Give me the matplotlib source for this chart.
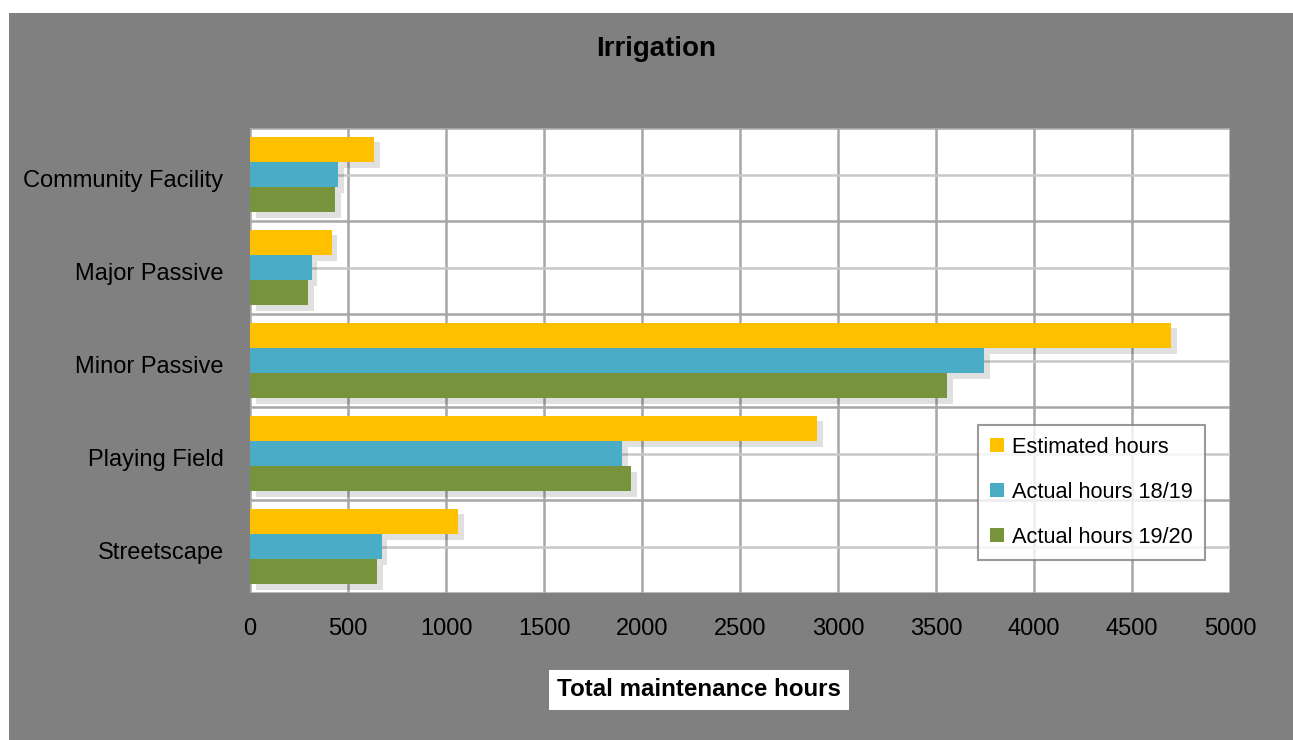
import matplotlib.pyplot as plt
import matplotlib.patheffects as pe
import matplotlib.transforms as mtransforms
from matplotlib.patches import Rectangle
import numpy as np

plt.rcParams['font.family'] = ['Liberation Sans', 'DejaVu Sans']

categories = ["Community Facility", "Major Passive", "Minor Passive", "Playing Field", "Streetscape"]
estimated = [633, 418, 4699, 2893, 1061]
actual_1819 = [449, 316, 3745, 1898, 673]
actual_1920 = [434, 296, 3556, 1944, 648]
series_names = ["Estimated hours", "Actual hours 18/19", "Actual hours 19/20"]
colors = ["#FFC000", "#4BACC6", "#77933C"]
xticks = [0, 500, 1000, 1500, 2000, 2500, 3000, 3500, 4000, 4500, 5000]

W, H = 1293, 740
fig = plt.figure(figsize=(W / 100, H / 100), dpi=100)
fig.patch.set_facecolor("white")
fig.patches.append(Rectangle((9 / W, 0), 1 - 9 / W, 1 - 13 / H, transform=fig.transFigure,
                             facecolor="#808080", edgecolor="none", zorder=-10))

ax = fig.add_axes([250 / W, 1 - 593 / H, 980 / W, 465 / H])
ax.set_facecolor("white")

n = len(categories)
y = np.arange(n)
bh = 0.27
shadow = [pe.SimplePatchShadow(offset=(4, -4), shadow_rgbFace="#000000", alpha=0.12), pe.Normal()]
for i, (vals, name, c) in enumerate(zip([estimated, actual_1819, actual_1920], series_names, colors)):
    ax.barh(y + (i - 1) * bh, vals, height=bh, color=c, label=name, zorder=3,
            path_effects=shadow)

ax.set_ylim(n - 0.5, -0.5)
ax.set_xlim(0, 5000)
ax.set_xticks(xticks)
ax.set_xticklabels([str(t) for t in xticks], fontsize=17)
ax.set_yticks(y)
ax.set_yticklabels(categories, fontsize=17)
ax.tick_params(axis="x", length=0, pad=18)
ax.tick_params(axis="y", length=0, pad=19)
shift = mtransforms.ScaledTranslation(0, -4 / 100, fig.dpi_scale_trans)
for lbl in ax.get_yticklabels():
    lbl.set_transform(lbl.get_transform() + shift)

# gridlines
for x in xticks:
    ax.axvline(x, color="#A6A6A6", lw=1.8, zorder=1)
for b in np.arange(-0.5, n, 1.0):
    ax.axhline(b, color="#A6A6A6", lw=1.8, zorder=1)
for c in y:
    ax.axhline(c, color="#C8C8C8", lw=1.8, zorder=1)
for s in ax.spines.values():
    s.set_visible(False)

fig.text(656 / W, 1 - 49 / H, "Irrigation", ha="center", va="center", fontsize=20, fontweight="bold")
fig.text(699 / W, 1 - 690 / H, "Total maintenance hours", ha="center", va="center", fontsize=17.4,
         fontweight="bold", bbox=dict(facecolor="white", edgecolor="none", pad=6))

leg = ax.legend(loc="lower right", bbox_to_anchor=(955 / 980, 33 / 465), fontsize=15.7,
                frameon=True, fancybox=False, handlelength=0.62, handleheight=0.62,
                handletextpad=0.4, labelspacing=1.1, borderpad=0.55, borderaxespad=0)
leg.get_frame().set_edgecolor("#808080")
leg.get_frame().set_linewidth(1.5)
for h in leg.legend_handles:
    h.set_path_effects([])

fig.savefig("out.png", dpi=100)
